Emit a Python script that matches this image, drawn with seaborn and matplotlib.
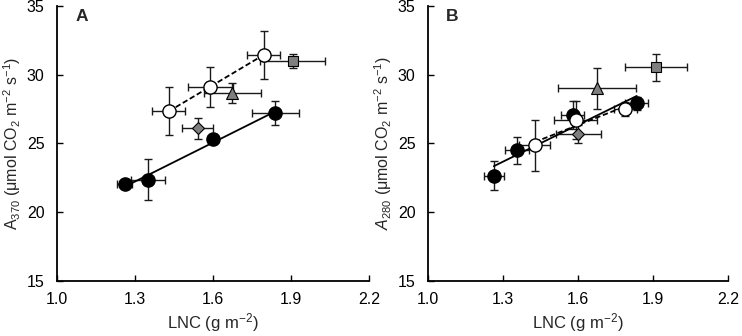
import numpy as np
import matplotlib
matplotlib.use("Agg")
import matplotlib.pyplot as plt
import seaborn as sns

# panel A (A370)
a_fill_x = [1.26, 1.35, 1.60, 1.84]
a_fill_y = [22.0, 22.35, 25.35, 27.2]
a_fill_xe = [0.03, 0.064, 0.02, 0.09]
a_fill_ye = [0.2, 1.5, 0.35, 0.85]
a_open_x = [1.43, 1.59, 1.795]
a_open_y = [27.35, 29.1, 31.45]
a_open_xe = [0.064, 0.087, 0.064]
a_open_ye = [1.75, 1.45, 1.75]
a_tri = (1.675, 28.65, 0.11, 0.75)
a_sq = (1.908, 31.0, 0.125, 0.5)
a_dia = (1.541, 26.1, 0.06, 0.77)

# panel B (A280)
b_fill_x = [1.263, 1.356, 1.578, 1.835]
b_fill_y = [22.65, 24.5, 27.05, 27.9]
b_fill_xe = [0.04, 0.049, 0.045, 0.045]
b_fill_ye = [1.04, 0.98, 1.0, 0.45]
b_open_x = [1.427, 1.59, 1.79]
b_open_y = [24.85, 26.7, 27.5]
b_open_xe = [0.062, 0.087, 0.045]
b_open_ye = [1.84, 1.35, 0.5]
b_tri = (1.676, 29.0, 0.157, 1.47)
b_sq = (1.913, 30.55, 0.124, 0.98)
b_dia = (1.601, 25.65, 0.09, 0.65)

sns.set_theme(style="ticks")
plt.rcParams['font.family'] = ['Liberation Sans', 'DejaVu Sans']
plt.rcParams['mathtext.fontset'] = 'custom'
plt.rcParams['mathtext.rm'] = 'Liberation Sans'
plt.rcParams['mathtext.it'] = 'Liberation Sans:italic'

fig = plt.figure(figsize=(7.42, 3.36), dpi=100)
axA = fig.add_axes([0.077, 0.165, 0.420, 0.817])
axB = fig.add_axes([0.577, 0.165, 0.404, 0.817])

eb_kw = dict(fmt="none", ecolor="0.1", elinewidth=1.0, capsize=3, capthick=1.0, zorder=2)


def draw(ax, fx, fy, fxe, fye, ox, oy, oxe, oye, tri, sq, dia, letter, ylab):
    ax.errorbar(fx, fy, xerr=fxe, yerr=fye, **eb_kw)
    ax.errorbar(ox, oy, xerr=oxe, yerr=oye, **eb_kw)
    for p in (tri, sq, dia):
        ax.errorbar([p[0]], [p[1]], xerr=[p[2]], yerr=[p[3]], **eb_kw)
    sns.regplot(x=np.array(fx), y=np.array(fy), ax=ax, scatter=False, ci=None,
                line_kws=dict(color="black", lw=1.3, zorder=3))
    sns.regplot(x=np.array(ox), y=np.array(oy), ax=ax, scatter=False, ci=None,
                line_kws=dict(color="black", lw=1.3, ls=(0, (3, 1.5)), zorder=3))
    ax.plot(fx, fy, "o", ms=9.5, mfc="black", mec="black", zorder=4)
    ax.plot(ox, oy, "o", ms=9.5, mfc="white", mec="black", mew=1.0, zorder=4)
    ax.plot([tri[0]], [tri[1]], "^", ms=9, mfc="#7f7f7f", mec="black", mew=0.8, zorder=4)
    ax.plot([sq[0]], [sq[1]], "s", ms=7.5, mfc="#7f7f7f", mec="black", mew=0.8, zorder=4)
    ax.plot([dia[0]], [dia[1]], "D", ms=6.5, mfc="#7f7f7f", mec="black", mew=0.8, zorder=4)

    ax.set_xlim(1.0, 2.2)
    ax.set_ylim(15, 35)
    ax.set_xticks([1.0, 1.3, 1.6, 1.9, 2.2])
    ax.set_xticklabels(["1.0", "1.3", "1.6", "1.9", "2.2"])
    ax.set_yticks([15, 20, 25, 30, 35])
    ax.tick_params(direction="in", length=4, width=1, labelsize=11.5, colors="black")
    ax.tick_params(axis="x", pad=8)
    ax.tick_params(axis="y", pad=9)
    for s in ("left", "bottom"):
        ax.spines[s].set_linewidth(1.3)
        ax.spines[s].set_color("black")
    sns.despine(ax=ax)
    ax.set_xlabel("LNC (g m$^{-2}$)", fontsize=12, labelpad=3)
    ax.set_ylabel(ylab, fontsize=11.5, labelpad=3)
    ax.text(0.058, 0.963, letter, transform=ax.transAxes, fontsize=12.5,
            fontweight="bold", va="center", ha="left")


draw(axA, a_fill_x, a_fill_y, a_fill_xe, a_fill_ye, a_open_x, a_open_y, a_open_xe, a_open_ye,
     a_tri, a_sq, a_dia, "A", "A$_{370}$ (μmol CO$_2$ m$^{-2}$ s$^{-1}$)")
draw(axB, b_fill_x, b_fill_y, b_fill_xe, b_fill_ye, b_open_x, b_open_y, b_open_xe, b_open_ye,
     b_tri, b_sq, b_dia, "B", "$\\mathit{A}_{280}$ (μmol CO$_2$ m$^{-2}$ s$^{-1}$)")

fig.savefig("out.png", dpi=100)
